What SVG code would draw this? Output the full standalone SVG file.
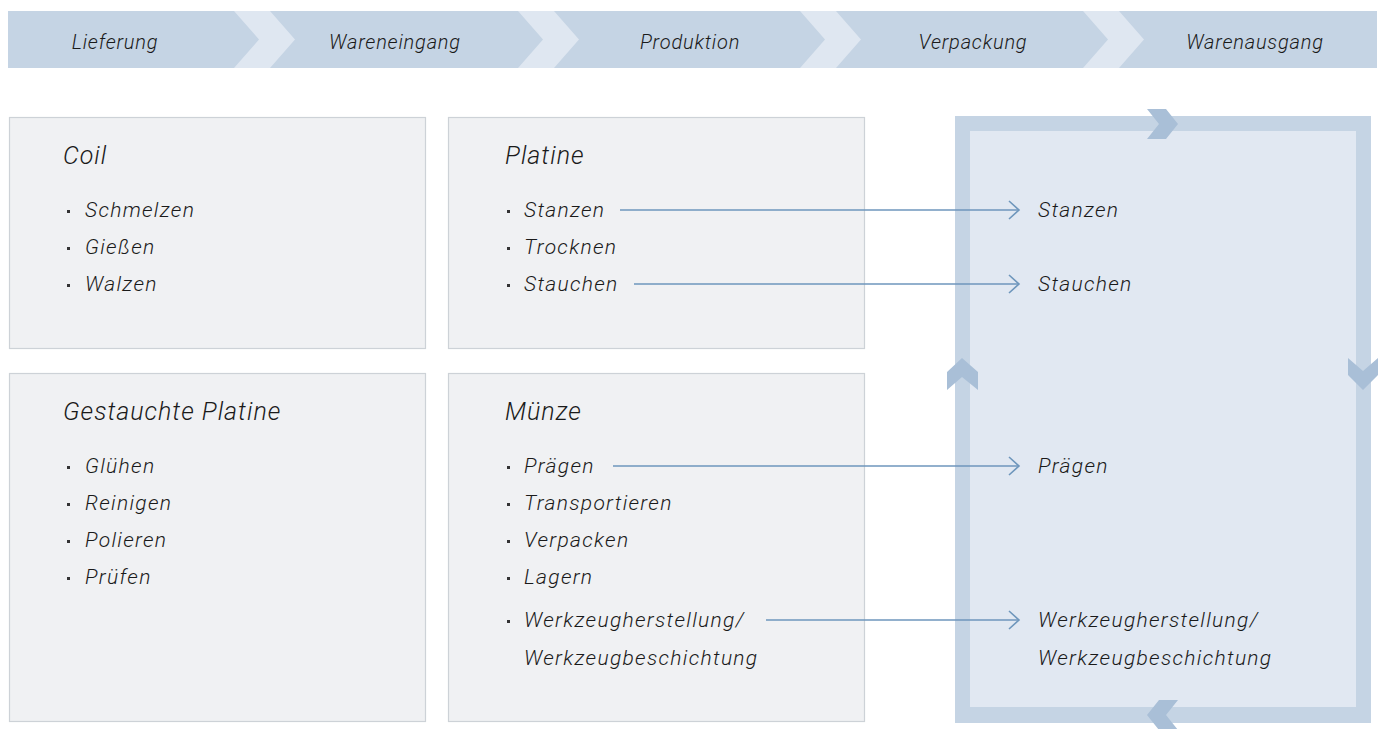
<svg xmlns="http://www.w3.org/2000/svg" width="1384" height="729" viewBox="0 0 1384 729">
<style>
text{font-family:Roboto,"Liberation Sans",sans-serif;font-style:italic;font-weight:300;fill:#1a1a1a}
.hdr{font-size:20px;text-anchor:middle;letter-spacing:0.8px}
.ttl{font-size:25px;letter-spacing:1px}
.itm{font-size:21px;letter-spacing:1.3px}
.box{fill:#f0f1f3;stroke:#cdd2d7;stroke-width:1.2}
.bul{fill:#333}
.conn{stroke:#6e96bc;stroke-width:1.6;fill:none}
.ah{stroke:#6e96bc;stroke-width:1.6;fill:none}
.chev{fill:#dfe7f1}
.pchev{fill:#a9bfd7}
</style>
<defs>
<marker id="arr" markerWidth="14" markerHeight="20" refX="12" refY="10" orient="auto" markerUnits="userSpaceOnUse">
<path d="M2,1 L12,10 L2,19" class="ah"/>
</marker>
</defs>

<g id="process-bar">
<rect x="8" y="11" width="1369" height="57" fill="#c5d4e4"/>
<polygon class="chev" points="234,11 270,11 295,39.5 270,68 234,68 259,39.5"/>
<polygon class="chev" points="518,11 554,11 579,39.5 554,68 518,68 543,39.5"/>
<polygon class="chev" points="800,11 836,11 861,39.5 836,68 800,68 825,39.5"/>
<polygon class="chev" points="1083,11 1119,11 1144,39.5 1119,68 1083,68 1108,39.5"/>
<text class="hdr" x="115" y="49">Lieferung</text>
<text class="hdr" x="395" y="49">Wareneingang</text>
<text class="hdr" x="690" y="49">Produktion</text>
<text class="hdr" x="973" y="49">Verpackung</text>
<text class="hdr" x="1255" y="49">Warenausgang</text>
</g>

<g id="coil">
<rect class="box" x="9.5" y="117.5" width="416" height="231"/>
<text class="ttl" x="63" y="164">Coil</text>
<rect class="bul" x="67" y="210" width="3" height="3"/>
<text class="itm" x="85" y="217">Schmelzen</text>
<rect class="bul" x="67" y="247" width="3" height="3"/>
<text class="itm" x="85" y="254">Gießen</text>
<rect class="bul" x="67" y="284" width="3" height="3"/>
<text class="itm" x="85" y="291">Walzen</text>
</g>

<g id="platine">
<rect class="box" x="448.5" y="117.5" width="416" height="231"/>
<text class="ttl" x="505" y="164">Platine</text>
<rect class="bul" x="507" y="210" width="3" height="3"/>
<text class="itm" x="524" y="217">Stanzen</text>
<rect class="bul" x="507" y="247" width="3" height="3"/>
<text class="itm" x="524" y="254">Trocknen</text>
<rect class="bul" x="507" y="284" width="3" height="3"/>
<text class="itm" x="524" y="291">Stauchen</text>
</g>

<g id="gestauchte-platine">
<rect class="box" x="9.5" y="373.5" width="416" height="348"/>
<text class="ttl" x="63" y="420">Gestauchte Platine</text>
<rect class="bul" x="67" y="466" width="3" height="3"/>
<text class="itm" x="85" y="473">Glühen</text>
<rect class="bul" x="67" y="503" width="3" height="3"/>
<text class="itm" x="85" y="510">Reinigen</text>
<rect class="bul" x="67" y="540" width="3" height="3"/>
<text class="itm" x="85" y="547">Polieren</text>
<rect class="bul" x="67" y="577" width="3" height="3"/>
<text class="itm" x="85" y="584">Prüfen</text>
</g>

<g id="muenze">
<rect class="box" x="448.5" y="373.5" width="416" height="348"/>
<text class="ttl" x="505" y="420">Münze</text>
<rect class="bul" x="507" y="466" width="3" height="3"/>
<text class="itm" x="524" y="473">Prägen</text>
<rect class="bul" x="507" y="503" width="3" height="3"/>
<text class="itm" x="524" y="510">Transportieren</text>
<rect class="bul" x="507" y="540" width="3" height="3"/>
<text class="itm" x="524" y="547">Verpacken</text>
<rect class="bul" x="507" y="577" width="3" height="3"/>
<text class="itm" x="524" y="584">Lagern</text>
<rect class="bul" x="507" y="620" width="3" height="3"/>
<text class="itm" x="524" y="627">Werkzeugherstellung/</text>
<text class="itm" x="524" y="665">Werkzeugbeschichtung</text>
</g>

<g id="cycle-panel">
<rect x="955" y="116" width="416" height="607" fill="#c5d4e4"/>
<rect x="970" y="131" width="386" height="576" fill="#e1e8f2"/>
<polygon class="pchev" points="1147,109 1166,109 1178,124 1166,139 1147,139 1159,124"/>
<polygon class="pchev" points="962,358 978,372 978,390 962,377 947,390 947,372"/>
<polygon class="pchev" points="1348,358 1363,371 1378,358 1378,375 1363,390 1348,375"/>
<polygon class="pchev" points="1178,700 1159,700 1147,715 1159,730 1178,730 1166,715"/>
<text class="itm" x="1038" y="217">Stanzen</text>
<text class="itm" x="1038" y="291">Stauchen</text>
<text class="itm" x="1038" y="473">Prägen</text>
<text class="itm" x="1038" y="627">Werkzeugherstellung/</text>
<text class="itm" x="1038" y="665">Werkzeugbeschichtung</text>
</g>

<g id="connectors">
<line class="conn" x1="620" y1="210" x2="1019" y2="210" marker-end="url(#arr)"/>
<line class="conn" x1="634" y1="284" x2="1019" y2="284" marker-end="url(#arr)"/>
<line class="conn" x1="613" y1="466" x2="1019" y2="466" marker-end="url(#arr)"/>
<line class="conn" x1="766" y1="620" x2="1019" y2="620" marker-end="url(#arr)"/>
</g>
</svg>
